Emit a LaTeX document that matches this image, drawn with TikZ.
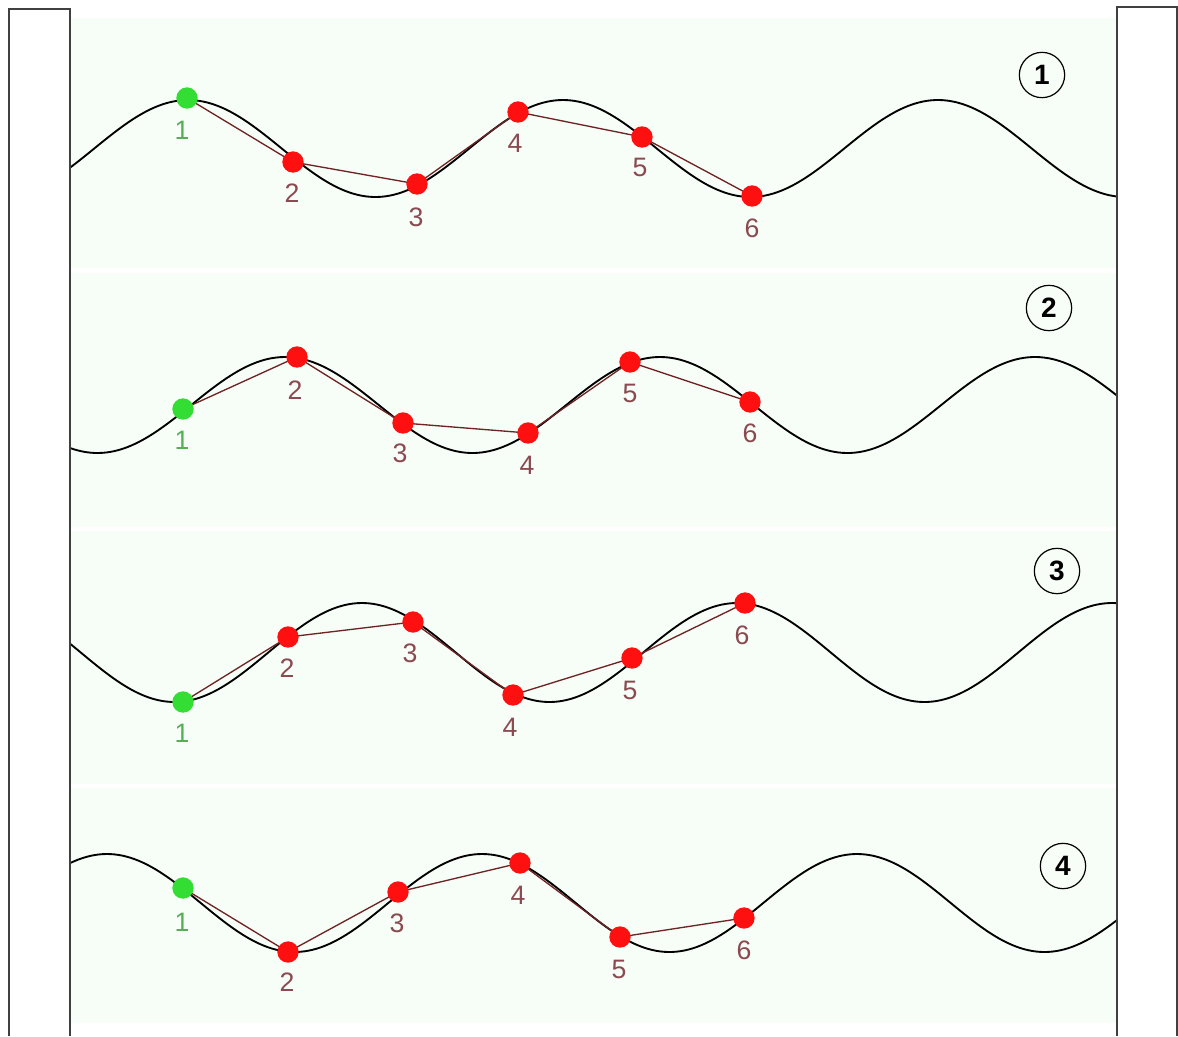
\documentclass[tikz,border=0pt]{standalone}
\usepackage{fontspec}
\setmainfont{Liberation Sans}
\definecolor{panelbg}{HTML}{F7FDF7}
\definecolor{linkred}{HTML}{6E2424}
\definecolor{lblred}{HTML}{8A4A50}
\definecolor{lblgreen}{HTML}{55B055}
\definecolor{dotred}{HTML}{FF1010}
\definecolor{dotgreen}{HTML}{33DD33}
\pgfdeclarelayer{back}
\pgfdeclarelayer{bg}
\pgfsetlayers{back,bg,main}
\tikzset{
  frameline/.style={draw=black!75, line width=1.1pt},
  wave/.style={draw=black, line width=1.4pt},
  link/.style={draw=linkred, line width=1pt},
  reddot/.style={circle, fill=dotred, minimum size=16pt, inner sep=0pt},
  greendot/.style={circle, fill=dotgreen, minimum size=16pt, inner sep=0pt},
  lbl/.style={inner sep=0pt, text=lblred, font=\fontsize{20}{20}\selectfont},
  glbl/.style={inner sep=0pt, text=lblgreen, font=\fontsize{20}{20}\selectfont},
  numcircle/.style={circle, draw=black, line width=0.9pt, minimum size=34pt, inner sep=0pt, font=\fontsize{21}{21}\selectfont\bfseries}
}
\begin{document}
\begin{tikzpicture}[x=0.75pt, y=-0.75pt]
\useasboundingbox (0,0) rectangle (1178,1036);
% frames
\begin{pgfonlayer}{back}
\fill[white] (0,0) rectangle (1178,1036);
\fill[panelbg] (70,18) rectangle (1117,268);
\fill[panelbg] (70,273) rectangle (1117,527);
\fill[panelbg] (70,531) rectangle (1117,784);
\fill[panelbg] (70,788) rectangle (1117,1023);
\end{pgfonlayer}
\draw[frameline] (9,1036) -- (9,9) -- (70,9) -- (70,1036);
\draw[frameline] (1117,1036) -- (1117,7) -- (1177,7) -- (1177,1036);

% panel 1
\node[greendot] (a1) at (187,98) {};
\node[reddot] (a2) at (293,162) {};
\node[reddot] (a3) at (417,184) {};
\node[reddot] (a4) at (518,112) {};
\node[reddot] (a5) at (642,137) {};
\node[reddot] (a6) at (752,196) {};
\node[glbl] (la1) at (182,130) {1};
\node[lbl] (la2) at (292,193) {2};
\node[lbl] (la3) at (416,217) {3};
\node[lbl] (la4) at (515,143) {4};
\node[lbl] (la5) at (640,167) {5};
\node[lbl] (la6) at (752,228) {6};
\node[numcircle] (n1) at (1042,75) {1};

% panel 2
\node[greendot] (b1) at (183,409) {};
\node[reddot] (b2) at (297,357) {};
\node[reddot] (b3) at (403,423) {};
\node[reddot] (b4) at (528,433) {};
\node[reddot] (b5) at (630,362) {};
\node[reddot] (b6) at (750,402) {};
\node[glbl] (lb1) at (182,440) {1};
\node[lbl] (lb2) at (295,390) {2};
\node[lbl] (lb3) at (400,453) {3};
\node[lbl] (lb4) at (527,465) {4};
\node[lbl] (lb5) at (630,393) {5};
\node[lbl] (lb6) at (750,433) {6};
\node[numcircle] (n2) at (1049,308) {2};

% panel 3
\node[greendot] (c1) at (183,702) {};
\node[reddot] (c2) at (288,637) {};
\node[reddot] (c3) at (413,622) {};
\node[reddot] (c4) at (513,695) {};
\node[reddot] (c5) at (632,658) {};
\node[reddot] (c6) at (745,603) {};
\node[glbl] (lc1) at (182,733) {1};
\node[lbl] (lc2) at (287,668) {2};
\node[lbl] (lc3) at (410,653) {3};
\node[lbl] (lc4) at (510,727) {4};
\node[lbl] (lc5) at (630,690) {5};
\node[lbl] (lc6) at (742,635) {6};
\node[numcircle] (n3) at (1057,571) {3};

% panel 4
\node[greendot] (d1) at (183,888) {};
\node[reddot] (d2) at (288,952) {};
\node[reddot] (d3) at (398,892) {};
\node[reddot] (d4) at (520,863) {};
\node[reddot] (d5) at (620,937) {};
\node[reddot] (d6) at (744,918) {};
\node[glbl] (ld1) at (182,922) {1};
\node[lbl] (ld2) at (287,982) {2};
\node[lbl] (ld3) at (397,923) {3};
\node[lbl] (ld4) at (518,895) {4};
\node[lbl] (ld5) at (619,969) {5};
\node[lbl] (ld6) at (744,950) {6};
\node[numcircle] (n4) at (1063,866) {4};

\begin{pgfonlayer}{bg}
\draw[wave] plot[domain=70:1117, samples=260, smooth] (\x, {148.5 - 48.5*cos(0.96*(\x-188))});
\draw[wave] plot[domain=70:1117, samples=260, smooth] (\x, {405 - 48*cos(0.96*(\x-285))});
\draw[wave] plot[domain=70:1117, samples=260, smooth] (\x, {652.5 - 49.5*cos(0.96*(\x-362))});
\draw[wave] plot[domain=70:1117, samples=260, smooth] (\x, {903 - 49*cos(0.96*(\x-107))});
\draw[link] (a1.center) -- (a2.center) -- (a3.center) -- (a4.center) -- (a5.center) -- (a6.center);
\draw[link] (b1.center) -- (b2.center) -- (b3.center) -- (b4.center) -- (b5.center) -- (b6.center);
\draw[link] (c1.center) -- (c2.center) -- (c3.center) -- (c4.center) -- (c5.center) -- (c6.center);
\draw[link] (d1.center) -- (d2.center) -- (d3.center) -- (d4.center) -- (d5.center) -- (d6.center);
\end{pgfonlayer}
\end{tikzpicture}
\end{document}
